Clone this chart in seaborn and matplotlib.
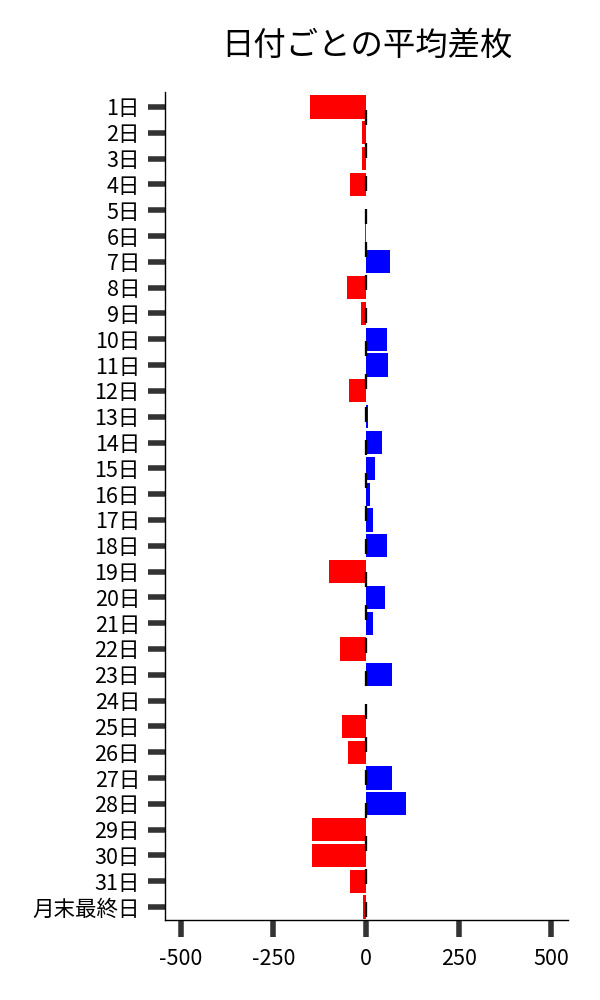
import matplotlib
matplotlib.use("Agg")
import matplotlib.pyplot as plt
import seaborn as sns
import pandas as pd

days = [f"{i}日" for i in range(1, 32)] + ["月末最終日"]
values = [-151, -10, -10, -43, 0, -2, 64, -51, -14, 57, 60, -46, 4, 43, 23, 10,
          18, 57, -100, 51, 18, -70, 70, 0, -65, -49, 71, 107, -145, -147, -42, -7]
title = "日付ごとの平均差枚"
xticks = [-500, -250, 0, 250, 500]

sns.set_theme(style="white")
plt.rcParams['font.family'] = ['Noto Sans CJK JP', 'DejaVu Sans']

df = pd.DataFrame({"day": days, "value": values})
df["sign"] = ["neg" if v < 0 else "pos" for v in values]

fig = plt.figure(figsize=(6, 10), dpi=100)
ax = fig.add_axes([0.275, 0.08, 0.672, 0.828])

sns.barplot(data=df, x="value", y="day", hue="sign", palette={"neg": "#ff0000", "pos": "#0000ff"},
            dodge=False, legend=False, width=0.9, orient="h", ax=ax, saturation=1,
            linewidth=0, zorder=2)
ax.axvline(0, color="black", lw=1.65, linestyle=(13.1, (6.55, 7.85)), zorder=3)

ax.set_xlim(-543, 546)
ax.set_ylim(len(days) - 0.5, -0.58)
ax.set_xticks(xticks)
ax.set_xticklabels([str(t) for t in xticks])
ax.set_xlabel("")
ax.set_ylabel("")
ax.set_title(title, fontsize=23.3, pad=27, color="black")
sns.despine(ax=ax)
for s in ["left", "bottom"]:
    ax.spines[s].set_color("black")
    ax.spines[s].set_linewidth(1.0)
ax.tick_params(axis="both", direction="out", length=12, width=4, color="#333333",
               labelsize=15.5, pad=6, left=True, bottom=True)
ax.tick_params(axis="x", pad=8)
for lab in ax.get_xticklabels() + ax.get_yticklabels():
    lab.set_color("black")

fig.savefig("out.png", dpi=100)
